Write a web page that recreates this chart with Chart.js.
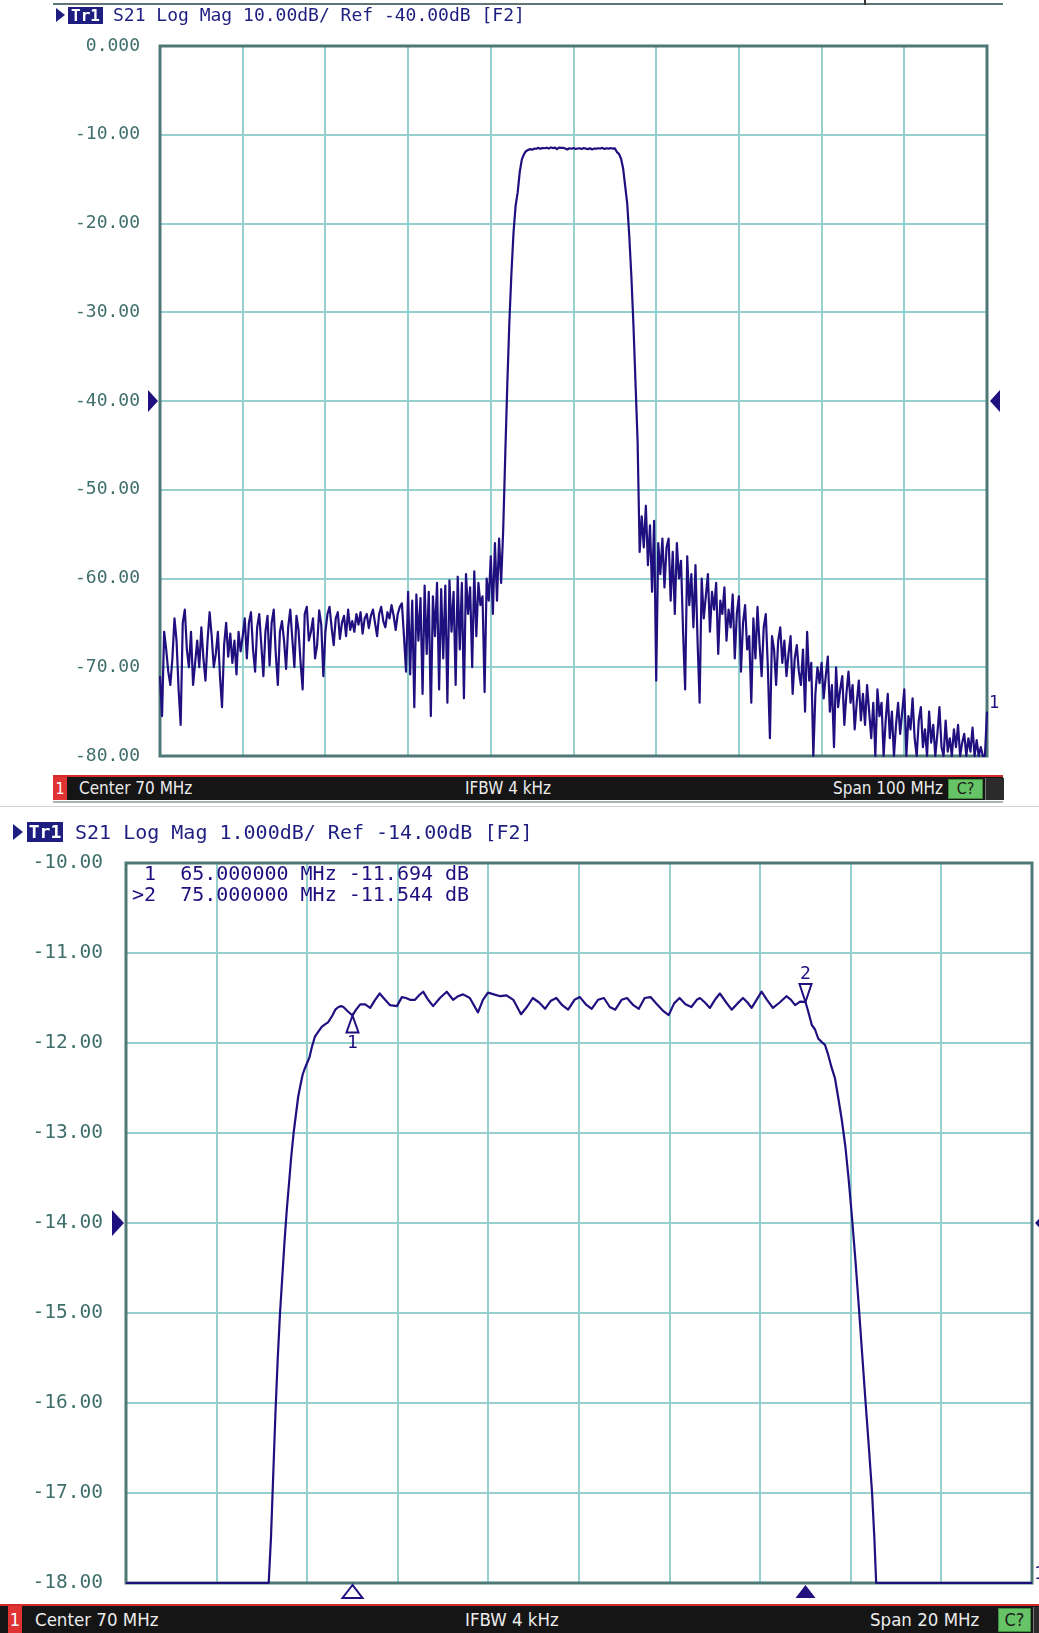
<!DOCTYPE html>
<html>
<head>
<meta charset="utf-8">
<title>S21 Log Mag</title>
<script src="https://cdn.jsdelivr.net/npm/chart.js@4.4.1/dist/chart.umd.min.js"></script>
<style>
  body { margin: 0; width: 1039px; height: 1633px; background: #fff; position: relative; overflow: hidden; }
  .abs { position: absolute; }
  canvas { position: absolute; left: 0; }
  .hdr { position: absolute; font-family: 'DejaVu Sans Mono', monospace; color: #1e1e80; white-space: pre; }
  .tr { position: absolute; background: #1e1e80; color: #fff; font-family: 'DejaVu Sans Mono', monospace; font-weight: bold; text-align: center; }
  .play { position: absolute; width: 0; height: 0; border-style: solid; border-color: transparent transparent transparent #1e1e80; }
  .ft { position: absolute; color: #ececec; font-family: 'DejaVu Sans Condensed', 'DejaVu Sans', sans-serif; font-stretch: condensed; white-space: pre; }
  .chn { position: absolute; background: #e03434; color: #fff; text-align: center; font-family: 'DejaVu Sans Condensed', 'DejaVu Sans', sans-serif; font-stretch: condensed; }
  .cal { position: absolute; background: #66c466; color: #1b1b1b; text-align: center; border: 1px solid #3c8c3c; box-sizing: border-box; font-family: 'DejaVu Sans Condensed', 'DejaVu Sans', sans-serif; font-stretch: condensed; }
</style>
</head>
<body>
<canvas id="c1" width="1039" height="770" style="top:0"></canvas>
<canvas id="c2" width="1039" height="790" style="top:810px"></canvas>

<!-- top panel header -->
<div class="abs" style="left:53px;top:3px;width:950px;height:2px;background:#5f7475"></div>
<div class="abs" style="left:864px;top:0;width:2px;height:5px;background:#333"></div>
<div class="play" style="left:56px;top:8px;border-width:7px 0 7px 9px"></div>
<div class="tr" style="left:68px;top:7px;width:35px;height:17px;font-size:16px;line-height:17px">Tr1</div>
<div class="hdr" style="left:113px;top:5px;font-size:18px;line-height:20px">S21 Log Mag 10.00dB/ Ref -40.00dB [F2]</div>

<!-- top panel footer -->
<div class="abs" style="left:53px;top:775px;width:950px;height:2px;background:#d42a2a"></div>
<div class="abs" style="left:53px;top:777px;width:950px;height:23px;background:#151515"></div>
<div class="chn" style="left:53px;top:777px;width:14px;height:23px;font-size:16px;line-height:23px">1</div>
<div class="ft" style="left:79px;top:777px;font-size:17px;line-height:23px">Center 70 MHz</div>
<div class="ft" style="left:465px;top:777px;font-size:17px;line-height:23px">IFBW 4 kHz</div>
<div class="ft" style="left:833px;top:777px;font-size:17px;line-height:23px">Span 100 MHz</div>
<div class="cal" style="left:948px;top:779px;width:35px;height:20px;font-size:16px;line-height:18px">C?</div>
<div class="abs" style="left:985px;top:778px;width:18px;height:22px;background:#2b2b2b;border-left:1px solid #777"></div>
<div class="abs" style="left:53px;top:801px;width:950px;height:2px;background:#a9b2b2"></div>
<div class="abs" style="left:0;top:806px;width:1039px;height:1px;background:#d3d3d3"></div>

<!-- bottom panel header -->
<div class="play" style="left:13px;top:824px;border-width:8px 0 8px 10px"></div>
<div class="tr" style="left:27px;top:822px;width:36px;height:20px;font-size:18px;line-height:20px">Tr1</div>
<div class="hdr" style="left:75px;top:820px;font-size:20px;line-height:24px">S21 Log Mag 1.000dB/ Ref -14.00dB [F2]</div>

<!-- bottom panel footer -->
<div class="abs" style="left:0;top:1604px;width:1039px;height:2px;background:#d42a2a"></div>
<div class="abs" style="left:0;top:1606px;width:1039px;height:27px;background:#151515"></div>
<div class="chn" style="left:8px;top:1606px;width:14px;height:27px;font-size:18px;line-height:27px">1</div>
<div class="ft" style="left:35px;top:1606px;font-size:18.5px;line-height:27px">Center 70 MHz</div>
<div class="ft" style="left:465px;top:1606px;font-size:18.5px;line-height:27px">IFBW 4 kHz</div>
<div class="ft" style="left:870px;top:1606px;font-size:18.5px;line-height:27px">Span 20 MHz</div>
<div class="cal" style="left:998px;top:1608px;width:33px;height:24px;font-size:18px;line-height:22px">C?</div>
<div class="abs" style="left:1033px;top:1607px;width:6px;height:26px;background:#2b2b2b;border-left:1px solid #777"></div>

<script>
'use strict';

// wide sweep: 20..120 MHz, 401 points
const topStart = 20;
const topStep = 0.25;
const topDb = [
  // 20 MHz
  -71, -75.5, -66, -68, -70.5, -72, -69, -64.5, -67, -72.5, -76.5, -65, -63.5, -68, -70, -66, -72, -69.5, -67, -70,
  // 25
  -65.5, -69, -71.5, -67, -63.8, -66.5, -70, -68.5, -66, -71, -74.5, -67.5, -65, -68.8, -66.2, -69.5, -67, -70.8, -66, -68.2,
  // 30
  -66.5, -64.5, -69, -65, -63.8, -68, -70.5, -65.5, -64, -67.5, -71, -66, -64.2, -69.8, -65, -63.5, -68.5, -72, -66, -64.8,
  // 35
  -67, -70.2, -65.5, -63.5, -66.8, -70, -64.2, -65.8, -69.5, -72.5, -64, -63.2, -67, -66, -64.5, -69, -67.5, -63.6, -65.2, -71,
  // 40
  -66, -64, -63.2, -65.5, -67.5, -64.5, -63.8, -66.8, -65, -64.2, -66.5, -63.5, -65.8, -64.8, -66, -64, -65.2, -63.8, -66.2, -64.5,
  // 45
  -64, -65.6, -64.2, -63.5, -65, -66.5, -64, -63.2, -64.8, -65.5, -63.8, -64.5, -63, -64.2, -65.8, -64, -63.2, -62.8, -66.5, -70.5,
  // 50
  -61.5, -70.8, -62.5, -74.5, -61.8, -67, -62.2, -73, -60.8, -68.5, -61.5, -75.5, -62, -66.5, -60.5, -72.5, -61.2, -69, -60.8, -74,
  // 55
  -60.2, -66, -61.5, -72, -59.8, -68, -60.5, -73.5, -59.5, -64, -61, -70, -59.2, -66.5, -60.5, -63, -62, -72.8, -60, -62.5,
  // 60
  -57.5, -64, -56, -62.5, -55.5, -60.5, -54.5, -46, -38, -31, -25.5, -21, -18, -16.5, -14.2, -12.8, -12.2, -11.85, -11.72, -11.62,
  // 65
  -11.69, -11.57, -11.58, -11.48, -11.59, -11.49, -11.52, -11.46, -11.56, -11.43, -11.5, -11.46, -11.62, -11.44, -11.48, -11.47, -11.55, -11.66, -11.52, -11.58,
  // 70
  -11.5, -11.6, -11.55, -11.52, -11.6, -11.5, -11.57, -11.62, -11.52, -11.66, -11.56, -11.57, -11.52, -11.55, -11.48, -11.6, -11.52, -11.56, -11.5, -11.57,
  // 75
  -11.54, -11.95, -12.15, -12.7, -13.8, -15.8, -17.8, -21.5, -26, -31.5, -38, -44.5, -57, -53, -56.5, -51.8, -58.5, -54, -61.5, -53.5,
  // 80
  -71.5, -56, -59.5, -55.5, -61, -56.5, -55.5, -62.5, -57, -64, -56, -60, -58, -66, -72.5, -57.5, -63, -59.5, -65.5, -58.5,
  // 85
  -67, -74, -60, -64.5, -62, -59.5, -66, -61.5, -63.5, -60.5, -68.5, -62.5, -64, -61, -67, -63.5, -65.5, -61.8, -69, -64,
  // 90
  -62, -70.5, -65, -63, -68, -66.5, -74, -64.5, -69, -63.2, -67.5, -71, -65.5, -64, -70, -78, -66.5, -68, -72, -67,
  // 95
  -65.5, -69.5, -67, -71, -68.5, -66.5, -73, -69, -67.5, -70.5, -72, -68, -75, -66, -71.5, -69.5, -80, -73, -70, -71.8,
  // 100
  -69.5, -73.5, -71, -68.8, -75, -72, -79, -70, -74.5, -72.5, -71, -76.5, -73, -70.5, -74, -72, -77, -74, -71.5, -76,
  // 105
  -73, -76.5, -72, -75, -78, -74, -80, -72.5, -75.5, -74, -80, -76, -73, -78, -75, -80, -76.5, -74, -77.5, -75,
  // 110
  -72.5, -80, -75.5, -77, -73.5, -78, -80, -76, -74.5, -79, -77, -80, -75, -78.5, -76.5, -80, -77.5, -74.5, -79, -80,
  // 115
  -76, -79.5, -78, -80, -77, -79, -76.5, -80, -78.5, -77.5, -80, -78, -79.5, -76.8, -80, -78.2, -80, -79, -80, -80,
  // 120
  -75
];
const topTickValues = [0, -10, -20, -30, -40, -50, -60, -70, -80];
const topTickLabels = ['0.000', '-10.00', '-20.00', '-30.00', '-40.00', '-50.00', '-60.00', '-70.00', '-80.00'];

// narrow sweep: 60..80 MHz
const botFreqs = [
  60.0, 63.15, 63.2, 63.25, 63.3, 63.35, 63.4, 63.45, 63.5, 63.55,
  63.6, 63.65, 63.7, 63.75, 63.8, 63.85, 63.9, 63.95, 64.0, 64.05,
  64.1, 64.17, 64.25, 64.32, 64.4, 64.46, 64.55, 64.62, 64.69, 64.75,
  64.8, 64.9, 65.0, 65.08, 65.17, 65.28, 65.39, 65.5, 65.6, 65.72,
  65.83, 65.98, 66.09, 66.18, 66.27, 66.38, 66.47, 66.56, 66.67, 66.78,
  66.93, 67.08, 67.22, 67.33, 67.44, 67.59, 67.68, 67.77, 67.88, 67.99,
  68.12, 68.26, 68.4, 68.55, 68.72, 68.85, 68.98, 69.12, 69.25, 69.38,
  69.5, 69.63, 69.76, 69.9, 70.02, 70.15, 70.28, 70.42, 70.55, 70.68,
  70.8, 70.94, 71.06, 71.2, 71.32, 71.45, 71.58, 71.72, 71.85, 71.98,
  72.1, 72.22, 72.35, 72.48, 72.6, 72.67, 72.78, 72.89, 73.0, 73.11,
  73.25, 73.37, 73.5, 73.62, 73.72, 73.81, 73.92, 74.03, 74.15, 74.28,
  74.43, 74.58, 74.68, 74.77, 74.88, 75.0, 75.06, 75.14, 75.21, 75.28,
  75.36, 75.43, 75.5, 75.58, 75.65, 75.72, 75.8, 75.88, 75.95, 76.02,
  76.1, 76.18, 76.25, 76.32, 76.4, 76.47, 76.52, 76.56, 80.0
];
const botDb = [
  -18, -18, -17.5, -16.8, -16.1, -15.5, -15.0, -14.6, -14.2, -13.85,
  -13.55, -13.25, -13.0, -12.8, -12.6, -12.47, -12.35, -12.28, -12.22, -12.16,
  -12.05, -11.93, -11.87, -11.82, -11.79, -11.77, -11.7, -11.63, -11.6, -11.59,
  -11.6, -11.65, -11.694, -11.63, -11.57, -11.57, -11.61, -11.52, -11.45, -11.52,
  -11.58, -11.59, -11.49, -11.5, -11.52, -11.52, -11.47, -11.43, -11.52, -11.59,
  -11.5, -11.43, -11.52, -11.48, -11.46, -11.5, -11.58, -11.66, -11.52, -11.44,
  -11.46, -11.48, -11.47, -11.52, -11.68, -11.6, -11.5, -11.55, -11.62, -11.53,
  -11.5, -11.58, -11.63, -11.52, -11.49, -11.57, -11.62, -11.52, -11.5, -11.6,
  -11.63, -11.52, -11.5, -11.58, -11.62, -11.5, -11.49, -11.57, -11.64, -11.69,
  -11.56, -11.5, -11.57, -11.6, -11.52, -11.5, -11.55, -11.61, -11.52, -11.45,
  -11.55, -11.63, -11.56, -11.5, -11.55, -11.61, -11.52, -11.43, -11.52, -11.61,
  -11.55, -11.48, -11.52, -11.58, -11.54, -11.544, -11.65, -11.8, -11.85, -11.95,
  -11.99, -12.02, -12.13, -12.28, -12.39, -12.6, -12.85, -13.15, -13.5, -13.9,
  -14.4, -14.95, -15.45, -15.95, -16.5, -17.0, -17.5, -18, -18
];
const botTickValues = [-10, -11, -12, -13, -14, -15, -16, -17, -18];
const botTickLabels = ['-10.00', '-11.00', '-12.00', '-13.00', '-14.00', '-15.00', '-16.00', '-17.00', '-18.00'];

// markers on the narrow sweep
const mkNames = ['1', '2'];
const mkFreqs = [65.0, 75.0];
const mkDb = [-11.694, -11.544];
const activeMarker = 1;

const traceColor = '#20107f';
const gridColor = '#95d0ce';
const frameColor = '#4e7876';
const labelColor = '#3f6f6c';

function tri(ctx, p, fill) {
  ctx.beginPath();
  ctx.moveTo(p[0], p[1]);
  ctx.lineTo(p[2], p[3]);
  ctx.lineTo(p[4], p[5]);
  ctx.closePath();
  if (fill) {
    ctx.fillStyle = traceColor;
    ctx.fill();
  } else {
    ctx.strokeStyle = traceColor;
    ctx.lineWidth = 2;
    ctx.stroke();
  }
}

const vnaPlugin = {
  id: 'vna',
  beforeDatasetsDraw(chart) {
    // frame under the trace, over the grid
    const ctx = chart.ctx;
    const a = chart.chartArea;
    ctx.save();
    ctx.strokeStyle = frameColor;
    ctx.lineWidth = 3;
    ctx.strokeRect(a.left, a.top, a.right - a.left, a.bottom - a.top);
    ctx.restore();
  },
  afterDraw(chart, args, o) {
    const ctx = chart.ctx;
    const a = chart.chartArea;
    const xs = chart.scales.x;
    const ys = chart.scales.y;
    ctx.save();

    // reference level arrows
    const ry = ys.getPixelForValue(o.refLevel);
    const h = o.refH, w = o.refW;
    tri(ctx, [a.left - 2, ry, a.left - 2 - w, ry - h / 2, a.left - 2 - w, ry + h / 2], true);
    tri(ctx, [a.right + 3, ry, a.right + 3 + w, ry - h / 2, a.right + 3 + w, ry + h / 2], true);

    // trace end label
    const d = chart.data.datasets[0].data;
    const last = d[d.length - 1];
    ctx.fillStyle = traceColor;
    ctx.font = o.endFont;
    ctx.textAlign = 'left';
    ctx.textBaseline = 'bottom';
    ctx.fillText('1', a.right + 2, ys.getPixelForValue(last.y) + o.endDy);

    if (o.markers) {
      ctx.font = '18px "DejaVu Sans Mono"';
      ctx.textAlign = 'center';
      mkFreqs.forEach((f, i) => {
        const x = xs.getPixelForValue(f);
        const y = ys.getPixelForValue(mkDb[i]);
        const act = i === activeMarker;
        if (act) {
          tri(ctx, [x, y, x - 6, y - 18, x + 6, y - 18], false);
          ctx.fillStyle = traceColor;
          ctx.textBaseline = 'bottom';
          ctx.fillText(mkNames[i], x, y - 19);
        } else {
          tri(ctx, [x, y, x - 6, y + 17, x + 6, y + 17], false);
          ctx.fillStyle = traceColor;
          ctx.textBaseline = 'top';
          ctx.fillText(mkNames[i], x, y + 19);
        }
        const by = a.bottom + 2;
        tri(ctx, [x, by, x - 10, by + 13, x + 10, by + 13], act);
      });

      // marker readout
      ctx.font = '20px "DejaVu Sans Mono"';
      ctx.textAlign = 'left';
      ctx.textBaseline = 'middle';
      ctx.fillStyle = traceColor;
      mkFreqs.forEach((f, i) => {
        const s = (i === activeMarker ? '>' : ' ') + mkNames[i] + '  ' + f.toFixed(6) + ' MHz ' + mkDb[i].toFixed(3) + ' dB';
        ctx.fillText(s, a.left + 6, a.top + 12 + i * 21);
      });
    }
    ctx.restore();
  }
};

function makeChart(id, cfg) {
  return new Chart(document.getElementById(id), {
    type: 'line',
    data: {
      datasets: [{
        data: cfg.points,
        borderColor: traceColor,
        borderWidth: 2.2,
        borderJoinStyle: 'round',
        pointRadius: 0,
        tension: 0,
        fill: false,
        clip: 4
      }]
    },
    options: {
      responsive: false,
      animation: false,
      devicePixelRatio: 1,
      layout: { autoPadding: false, padding: cfg.padding },
      plugins: {
        legend: { display: false },
        tooltip: { enabled: false },
        vna: cfg.vna
      },
      scales: {
        x: {
          type: 'linear',
          min: cfg.xMin,
          max: cfg.xMax,
          ticks: { display: false, stepSize: cfg.xStep },
          grid: { color: gridColor, lineWidth: 2, drawTicks: false },
          border: { display: false },
          afterFit: s => { s.height = 0; }
        },
        y: {
          min: cfg.tickValues[cfg.tickValues.length - 1],
          max: cfg.tickValues[0],
          afterBuildTicks: s => { s.ticks = cfg.tickValues.slice().reverse().map(v => ({ value: v })); },
          ticks: {
            callback: v => cfg.tickLabels[cfg.tickValues.indexOf(v)],
            color: labelColor,
            font: { family: 'DejaVu Sans Mono', size: cfg.labelSize },
            padding: cfg.labelPad
          },
          grid: { color: gridColor, lineWidth: 2, drawTicks: false },
          border: { display: false },
          afterFit: s => { s.width = cfg.axisWidth; s.paddingTop = 0; s.paddingBottom = 0; }
        }
      }
    },
    plugins: [vnaPlugin]
  });
}

makeChart('c1', {
  points: topDb.map((v, i) => ({ x: topStart + i * topStep, y: v })),
  padding: { left: 0, top: 46, right: 52, bottom: 14 },
  xMin: 20, xMax: 120, xStep: 10,
  tickValues: topTickValues, tickLabels: topTickLabels,
  labelSize: 18, labelPad: 20, axisWidth: 160,
  vna: { refLevel: -40, refH: 22, refW: 10, endFont: '17px "DejaVu Sans Mono"', endDy: 0, markers: false }
});

makeChart('c2', {
  points: botFreqs.map((f, i) => ({ x: f, y: botDb[i] })),
  padding: { left: 0, top: 53, right: 7, bottom: 17 },
  xMin: 60, xMax: 80, xStep: 2,
  tickValues: botTickValues, tickLabels: botTickLabels,
  labelSize: 19.5, labelPad: 23, axisWidth: 126,
  vna: { refLevel: -14, refH: 26, refW: 12, endFont: '18px "DejaVu Sans Mono"', endDy: 0, markers: true }
});
</script>
</body>
</html>
